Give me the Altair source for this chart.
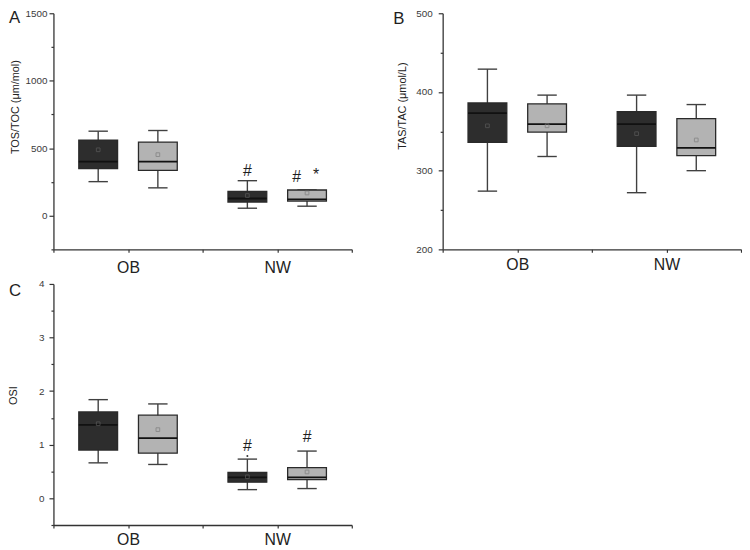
import altair as alt
import pandas as pd

FONT = "Liberation Sans"

# ---------------- data ----------------
groups_order = ["OB", "NW"]
series_order = ["Series 1", "Series 2"]
box_group = ["OB", "OB", "NW", "NW"]
box_series = ["Series 1", "Series 2", "Series 1", "Series 2"]

# Panel A: TOS/TOC (µm/mol)
tos_min = [252, 206, 55, 70]
tos_q1 = [348, 336, 101, 108]
tos_median = [400, 400, 127, 120]
tos_q3 = [560, 545, 180, 190]
tos_max = [626, 631, 259, 190]
tos_mean = [488, 452, 149, 168]
tos_note_group = ["NW", "NW", "NW"]
tos_note_text = ["#", "#", "*"]
tos_note_value = [328, 285, 300]

# Panel B: TAS/TAC (µmol/L)
tas_min = [274, 318, 272, 300]
tas_q1 = [336, 349, 331, 319]
tas_median = [373, 359, 359, 329]
tas_q3 = [386, 385, 375, 366]
tas_max = [429, 396, 396, 384]
tas_mean = [357, 357, 347, 339]

# Panel C: OSI
osi_min = [0.66, 0.63, 0.16, 0.18]
osi_q1 = [0.90, 0.84, 0.30, 0.345]
osi_median = [1.37, 1.12, 0.39, 0.39]
osi_q3 = [1.61, 1.55, 0.48, 0.57]
osi_max = [1.84, 1.76, 0.73, 0.88]
osi_mean = [1.39, 1.28, 0.40, 0.49]
osi_note_group = ["NW", "NW"]
osi_note_text = ["#", "#"]
osi_note_value = [0.98, 1.14]
osi_outlier_group = ["NW"]
osi_outlier_value = [0.79]

# ---------------- style ----------------
SERIES_OFFSET = {"Series 1": -0.2, "Series 2": 0.2}
BOX_HALF = 0.13
CAP_HALF = 0.065
FILL = ["#2d2d2d", "#b3b3b3"]
MEAN_STROKE = ["#5c5c5c", "#7c7c7c"]
AXIS_COLOR = "#333333"
W = 302


def gpos(g):
    return groups_order.index(g) + 1


def panel(stats, domain, tick_vals, major_test, label_expr, ylabel_pad, xlabel_pad,
          ytitle, title_x, title_y, letter, letter_x, letter_y, height,
          notes=None, outliers=None):
    mn, q1, md, q3, mx, me = stats
    pos = [gpos(g) + SERIES_OFFSET[s] for g, s in zip(box_group, box_series)]
    df = pd.DataFrame({
        "group": box_group, "series": box_series, "pos": pos,
        "lo": mn, "q1": q1, "med": md, "q3": q3, "hi": mx, "mean": me,
    })
    df["x0"] = df["pos"] - BOX_HALF
    df["x1"] = df["pos"] + BOX_HALF
    df["c0"] = df["pos"] - CAP_HALF
    df["c1"] = df["pos"] + CAP_HALF

    xs = alt.Scale(domain=[0.5, 2.5], nice=False, zero=False)
    ys = alt.Scale(domain=domain, nice=False, zero=False)

    xaxis = alt.Axis(
        values=[0.5, 1, 1.5, 2, 2.5],
        labelExpr=f"datum.value == 1 ? '{groups_order[0]}' : datum.value == 2 ? '{groups_order[1]}' : ''",
        title=None, grid=False, tickSize=3, tickWidth=1.2, tickColor=AXIS_COLOR,
        domainColor=AXIS_COLOR, domainWidth=1.3, labelFontSize=16, labelFont=FONT,
        labelColor="#222222", labelPadding=xlabel_pad, labelOverlap=False,
        labelFlush=False, labelBaseline="top",
    )
    yaxis = alt.Axis(
        values=tick_vals, labelExpr=label_expr, title=None,
        grid=False,
        tickSize={"condition": {"test": major_test, "value": 4.5}, "value": 2.5},
        tickWidth=1.2, tickColor=AXIS_COLOR, domainColor=AXIS_COLOR, domainWidth=1.3,
        labelFontSize=10, labelFont=FONT, labelColor="#3a3a3a",
        labelPadding=ylabel_pad, labelOverlap=False, labelFlush=False,
    )

    def X(f):
        return alt.X(f, type="quantitative", scale=xs, axis=xaxis)

    def Y(f):
        return alt.Y(f, type="quantitative", scale=ys, axis=yaxis)

    base = alt.Chart(df)
    whisk = base.mark_rule(color="#404040", strokeWidth=1.4).encode(
        x=X("pos"), y=Y("lo"), y2="hi:Q",
    )
    cap_hi = base.mark_rule(color="#404040", strokeWidth=1.4).encode(
        x=X("c0"), x2="c1:Q", y=Y("hi"),
    )
    cap_lo = base.mark_rule(color="#404040", strokeWidth=1.4).encode(
        x=X("c0"), x2="c1:Q", y=Y("lo"),
    )
    box = base.mark_rect(stroke="#2a2a2a", strokeWidth=1.3).encode(
        x=X("x0"), x2="x1:Q", y=Y("q1"), y2="q3:Q",
        fill=alt.Fill("series:N", scale=alt.Scale(domain=series_order, range=FILL), legend=None),
    )
    med = base.mark_rule(color="#111111", strokeWidth=1.8).encode(
        x=X("x0"), x2="x1:Q", y=Y("med"),
    )
    mean = base.mark_square(size=14, filled=False, strokeWidth=1).encode(
        x=X("pos"), y=Y("mean"),
        stroke=alt.Stroke("series:N", scale=alt.Scale(domain=series_order, range=MEAN_STROKE), legend=None),
    )
    layers = [whisk, cap_hi, cap_lo, box, med, mean]

    if outliers is not None:
        og, ov = outliers
        odf = pd.DataFrame({"pos": [gpos(g) + SERIES_OFFSET["Series 1"] for g in og], "v": ov})
        layers.append(alt.Chart(odf).mark_circle(size=4, color="#333333", opacity=1).encode(
            x=X("pos"), y=Y("v"),
        ))

    if notes is not None:
        ng, nt, nv, noff = notes
        ndf = pd.DataFrame({"pos": [gpos(g) + o for g, o in zip(ng, noff)], "v": nv, "t": nt})
        layers.append(alt.Chart(ndf).mark_text(fontSize=16, font=FONT, color="#1e1e1e",
                                               baseline="middle").encode(
            x=X("pos"), y=Y("v"), text="t:N",
        ))

    # axis title (rotated) and panel letter
    tdf = pd.DataFrame({"t": [ytitle]})
    layers.append(alt.Chart(tdf).mark_text(fontSize=11, font=FONT, color="#222222",
                                           angle=270, align="center",
                                           baseline="alphabetic").encode(
        x=alt.value(title_x), y=alt.value(title_y), text="t:N",
    ))
    ldf = pd.DataFrame({"letter": [letter]})
    layers.append(alt.Chart(ldf).mark_text(fontSize=17, font=FONT, color="#1e1e1e",
                                           align="left", baseline="top").encode(
        x=alt.value(letter_x), y=alt.value(letter_y), text="letter:N",
    ))

    return alt.layer(*layers).properties(width=W, height=height)


chart_a = panel(
    (tos_min, tos_q1, tos_median, tos_q3, tos_max, tos_mean),
    [-250, 1500], [-250, 0, 250, 500, 750, 1000, 1250, 1500],
    "datum.value % 500 === 0",
    "datum.value % 500 === 0 ? format(datum.value, 'd') : ''",
    2, 7, "TOS/TOC (μm/mol)", -35, 95, "A", -45, -3, 239,
    notes=(tos_note_group, tos_note_text, tos_note_value, [-0.2, 0.13, 0.26]),
)
chart_b = panel(
    (tas_min, tas_q1, tas_median, tas_q3, tas_max, tas_mean),
    [200, 500], [200, 250, 300, 350, 400, 450, 500],
    "datum.value % 100 === 0",
    "datum.value % 100 === 0 ? format(datum.value, 'd') : ''",
    6, 4, "TAS/TAC (μmol/L)", -37, 94, "B", -50, -2, 239,
)
chart_c = panel(
    (osi_min, osi_q1, osi_median, osi_q3, osi_max, osi_mean),
    [-0.5, 4], [-0.5, 0, 0.5, 1, 1.5, 2, 2.5, 3, 3.5, 4],
    "datum.value % 1 === 0",
    "datum.value % 1 === 0 ? format(datum.value, 'd') : ''",
    5, 4, "OSI", -37, 113, "C", -45, -1, 244,
    notes=(osi_note_group, osi_note_text, osi_note_value, [-0.2, 0.2]),
    outliers=(osi_outlier_group, osi_outlier_value),
)

chart = alt.concat(
    chart_a, chart_b, chart_c, columns=2,
    spacing={"row": 35, "column": 92}, bounds="flush",
).properties(padding={"top": -3, "left": 0, "right": 0, "bottom": 0}).configure(
    font=FONT, view=alt.ViewConfig(stroke="transparent", strokeWidth=0),
)

chart.save("out.html", embed_options={"renderer": "svg", "actions": False})
